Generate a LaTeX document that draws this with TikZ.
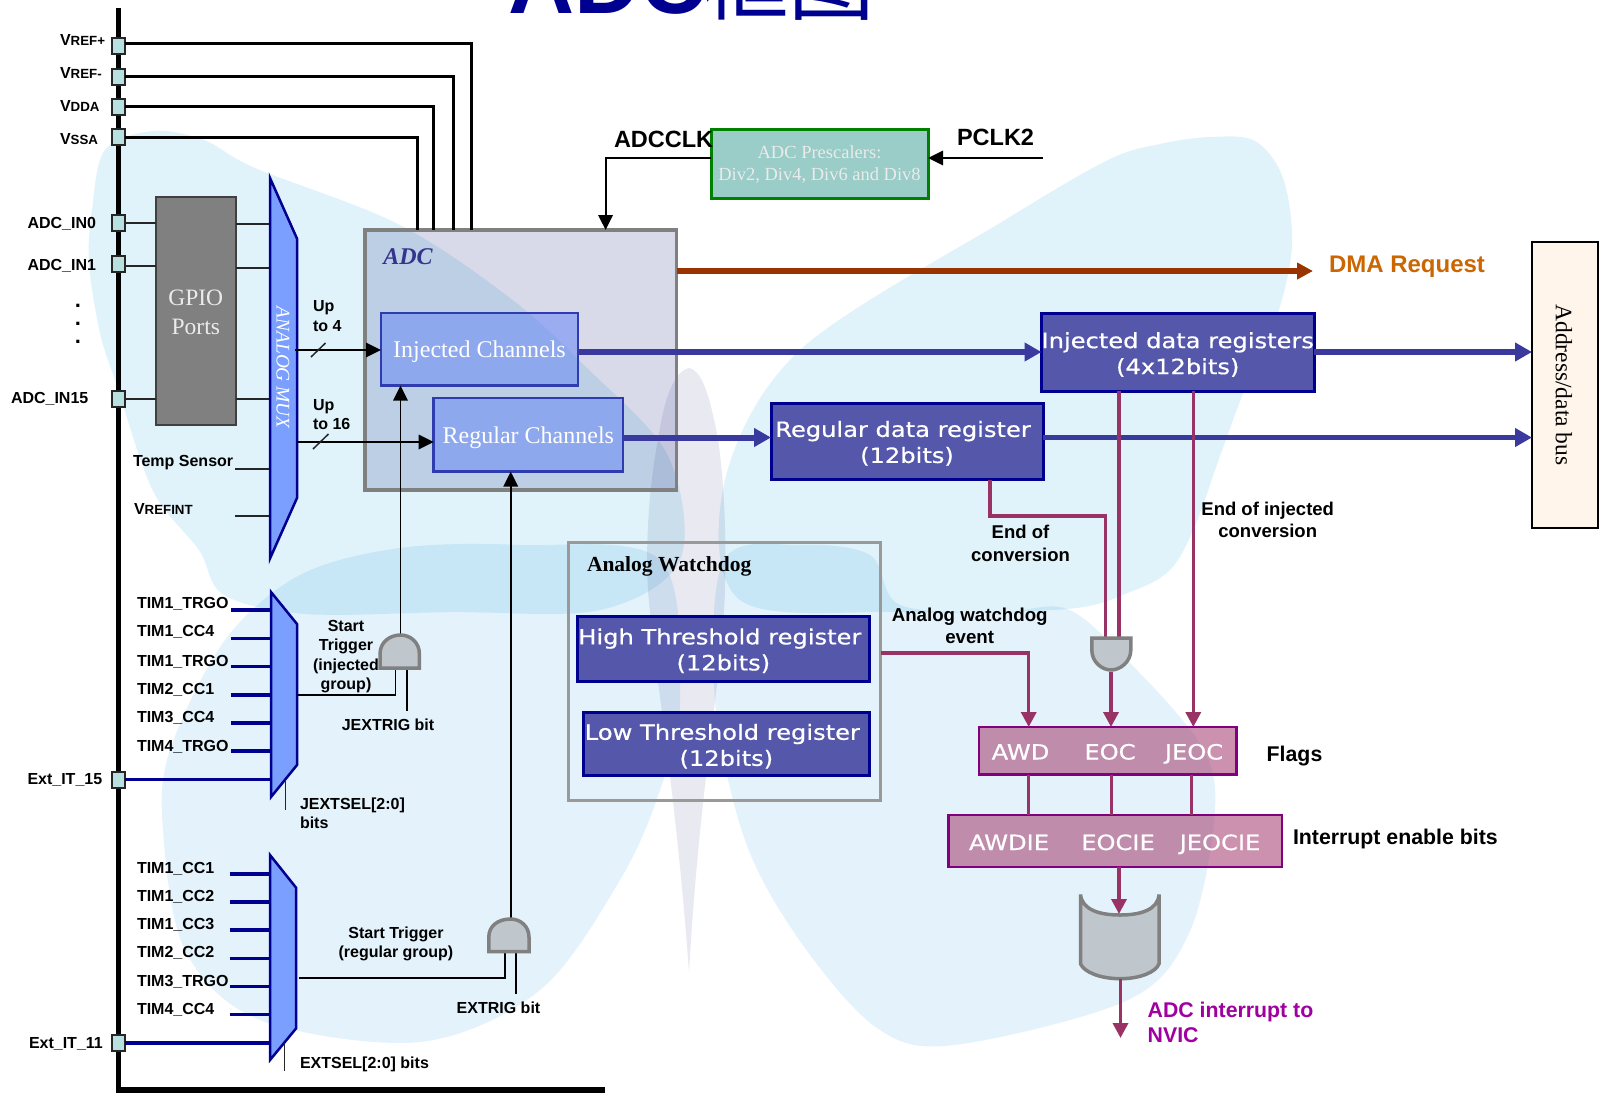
\documentclass[tikz,border=0pt]{standalone}
\usepackage{fontspec}
\setmainfont{Liberation Sans}
\newfontfamily\tms{Liberation Serif}
\newfontfamily\vera[FakeStretch=1.15,FakeBold=.6]{DejaVu Sans}
\newfontfamily\cjk{Noto Sans CJK SC}
\usetikzlibrary{arrows.meta,calc}
\definecolor{navy}{HTML}{000090}
\definecolor{wingA}{HTML}{E0F3FA}
\definecolor{wingB}{HTML}{E3F2FB}
\definecolor{bodyc}{HTML}{E8E9F1}
\definecolor{adcfill}{HTML}{D8DAEA}
\definecolor{chan}{HTML}{6082F6}
\definecolor{chanedge}{HTML}{2F3CB0}
\definecolor{regfill}{HTML}{5558AA}
\definecolor{busblue}{HTML}{3A3A9E}
\definecolor{plum}{HTML}{993366}
\definecolor{dma}{HTML}{993300}
\definecolor{dmatxt}{HTML}{CC6600}
\definecolor{mux}{HTML}{7B9FFF}
\definecolor{pinc}{HTML}{B8E0E0}
\definecolor{gatec}{HTML}{BFC6CC}
\definecolor{flag}{HTML}{AA4878}
\definecolor{flagedge}{HTML}{800080}
\definecolor{nvic}{HTML}{A000A0}
\definecolor{presc}{HTML}{9ACCC8}
\definecolor{addrc}{HTML}{FFF5EA}
\tikzset{
  lbl/.style={inner sep=0pt,outer sep=0pt,font=\bfseries\fontsize{16}{19.5}\selectfont,align=center},
  lblwm/.style={lbl,anchor=west,align=left},
  lblw/.style={lblwm,yshift=-1.2pt},
  lblm/.style={lbl,font=\bfseries\fontsize{18.5}{22.5}\selectfont},
  lblb/.style={lblw,font=\bfseries\fontsize{21.3}{25}\selectfont},
  lblk/.style={lblw,font=\bfseries\fontsize{23.5}{28}\selectfont},
  pinbox/.style={draw=black!85,line width=2pt,fill=pinc,minimum width=13pt,minimum height=16pt,inner sep=0pt,outer sep=0pt},
  chanbox/.style={draw=chanedge,line width=2.5pt,fill=chan,fill opacity=.5,draw opacity=1,text opacity=1,text=white,text depth=0pt,font=\tms\fontsize{24}{28}\selectfont},
  regbox/.style={draw=navy,line width=3pt,fill=regfill,text=white,align=center,font=\vera\fontsize{21}{26}\selectfont},
  flagbox/.style={draw=flagedge,line width=2.5pt,fill=flag,fill opacity=.6,draw opacity=1},
  flagtxt/.style={text=white,inner sep=0pt,anchor=base,font=\vera\fontsize{21}{26}\selectfont},
  muxshape/.style={draw=navy,line width=2.5pt,fill=mux,line join=miter},
  gate/.style={draw=black!50,line width=3.5pt,fill=gatec},
  thin/.style={draw=black!85,line width=2pt},
  wire/.style={draw=black,line width=1.8pt},
  navyin/.style={draw=navy,line width=3.5pt},
  supply/.style={draw=black,line width=3pt},
  tipk/.style={-{Triangle[length=15pt,width=14.5pt]}},
  thick blue/.style={draw=busblue,line width=6pt,-{Triangle[length=17pt,width=18pt]}},
  plumline/.style={draw=plum,line width=3.5pt},
  plumarrow/.style={plumline,-{Triangle[length=15pt,width=15pt]}},
}
\newcommand\boxnode[7]{%
  \pgfmathsetmacro\bw{#5-#3}\pgfmathsetmacro\bh{#6-#4}%
  \pgfmathsetmacro\bx{(#3+#5)/2}\pgfmathsetmacro\by{(#4+#6)/2}%
  \node[#2,minimum width=\bw pt,minimum height=\bh pt,inner sep=0pt,outer sep=0pt] (#1) at (\bx,\by) {#7};}
\newcommand\vs[1]{\rule{0pt}{#1pt}}
\begin{document}
\begin{tikzpicture}[x=1pt,y=-1pt]
\useasboundingbox (0,0) rectangle (1604,1093);
\begin{scope}
\clip (0,0) rectangle (1604,1093);
\fill[white] (0,0) rectangle (1604,1093);
% butterfly watermark
\begin{scope}[blend mode=multiply]
\fill[wingA] plot[smooth cycle,tension=.55] coordinates {(153,131) (204,140) (255,168) (398,224) (510,298) (587,368) (668,456) (680,560) (600,610) (450,612) (306,614) (224,595) (199,550) (153,491) (117,386) (100,333) (89,263) (92,210) (105,150)};
\fill[wingA] plot[smooth cycle,tension=.55] coordinates {(725,480) (800,350) (1005,220) (1108,160) (1160,144) (1210,137) (1255,141) (1283,178) (1292,245) (1277,316) (1246,386) (1220,456) (1195,526) (1170,570) (1130,592) (1067,609) (900,612) (740,600)};
\fill[wingB] plot[smooth cycle,tension=.55] coordinates {(660,560) (520,545) (400,548) (300,575) (225,640) (170,750) (163,830) (185,950) (260,1020) (420,1042) (540,990) (620,880) (660,790) (680,700)};
\fill[wingB] plot[smooth cycle,tension=.55] coordinates {(724,560) (800,545) (870,555) (900,605) (1000,612) (1067,609) (1128,661) (1200,744) (1215,810) (1190,931) (1128,1000) (954,1045) (877,1028) (800,941) (745,840) (715,700)};
\fill[bodyc] (689,368) .. controls (672,372) and (663,405) .. (658,440) .. controls (650,480) and (645,540) .. (648,590) .. controls (655,680) and (675,780) .. (689,972) .. controls (700,780) and (722,680) .. (725,590) .. controls (727,520) and (722,450) .. (714,420) .. controls (708,390) and (700,370) .. (689,368) -- cycle;
\end{scope}
% title
\node[anchor=base west,inner sep=0pt,text=navy,font=\fontsize{91.5}{95}\selectfont] (title) at (508,13) {\textbf{ADC}\hspace{-4pt}\cjk\fontsize{86.5}{95}\selectfont 框图};
\end{scope}

% ADC box (drawn first so that channels sit on it)
\begin{scope}[blend mode=multiply]
\boxnode{adc}{fill=adcfill}{365}{230}{676.5}{490}{}
\end{scope}
\draw[draw=black!50,line width=3.5pt] (adc.north west) rectangle (adc.south east);
\node[inner sep=0pt,text=busblue!90!black,font=\tms\bfseries\itshape\fontsize{24}{28}\selectfont] (adct) at (408,257) {ADC};

% bus
\coordinate (bustop) at (118.4,8);
\coordinate (buscorner) at (118.4,1090);
\coordinate (busend) at (605,1090);
\draw[black,line width=5.5pt] (bustop) -- (buscorner) -- (busend);

% pins
\node[pinbox] (vrefp) at (118.4,45.6) {};
\node[pinbox] (vrefm) at (118,76.5) {};
\node[pinbox] (vdda) at (118,106.7) {};
\node[pinbox] (vssa) at (118,137) {};
\node[pinbox] (in0) at (118.5,223) {};
\node[pinbox] (in1) at (118.5,263.5) {};
\node[pinbox] (in15) at (118,398.5) {};
\node[pinbox] (ext15) at (118.5,779.6) {};
\node[pinbox] (ext11) at (118,1043) {};

\newcommand\smc[2]{{\fontsize{16}{19}\selectfont #1}{\fontsize{13.3}{19}\selectfont #2}}
\node[lblw] (lvrefp) at (60,39) {\smc{V}{REF+}};
\node[lblw] (lvrefm) at (60,71.5) {\smc{V}{REF-}};
\node[lblw] (lvdda) at (60,104.5) {\smc{V}{DDA}};
\node[lblw] (lvssa) at (60,137.5) {\smc{V}{SSA}};
\node[lblw] (lin0) at (27.5,223) {ADC\_IN0};
\node[lblw] (lin1) at (27.5,264.5) {ADC\_IN1};
\node[lblw] (lin15) at (11,397.5) {ADC\_IN15};
\node[lbl,font=\bfseries\fontsize{22}{18}\selectfont] (dots) at (78,324) {.\\.\\.};
\node[lblw] (ltemp) at (133,461.6) {Temp Sensor};
\node[lblw] (lvrefint) at (134,508) {\smc{V}{REFINT}};
\node[lblw] (lext15) at (27.5,778.5) {Ext\_IT\_15};
\node[lblw] (lext11) at (29,1042.7) {Ext\_IT\_11};

% supply lines
\coordinate (sa) at (471,230);
\coordinate (sb) at (453.5,230);
\coordinate (sc) at (433.7,230);
\coordinate (sd) at (417.3,230);
\draw[supply] ([yshift=2pt]vrefp.east) -| (sa);
\draw[supply] (vrefm.east) -| (sb);
\draw[supply] (vdda.east) -| (sc);
\draw[supply] (vssa.east) -| (sd);

% GPIO
\boxnode{gpio}{draw=black!75,line width=2pt,fill=black!50,text=white!92!black,align=center,font=\tms\fontsize{23.5}{29}\selectfont}{155.6}{197}{236}{424.5}{\vs{18}GPIO\\Ports}

% analog mux
\coordinate (m1a) at (270,178);
\coordinate (m1b) at (297,238.6);
\coordinate (m1c) at (297,498);
\coordinate (m1d) at (270,558.5);
\coordinate (tmpin) at (270,469);
\coordinate (vrin) at (270,515.7);
\coordinate (tmpend) at (235,469);
\coordinate (vrend) at (235,515.7);
\coordinate (g1r) at (270,223.8);
\coordinate (g2r) at (270,267.7);
\coordinate (g3r) at (270,398.5);
\draw[thin] (in0.east) -- (gpio.west |- in0);
\draw[thin] (in1.east |- 0,266) -- (gpio.west |- 0,266);
\draw[thin] (in15.east) -- (gpio.west |- in15);
\draw[thin] (gpio.east |- g1r) -- (g1r);
\draw[thin] (gpio.east |- g2r) -- (g2r);
\draw[thin] (gpio.east |- g3r) -- (g3r);
\draw[thin] (tmpend) -- (tmpin);
\draw[thin] (vrend) -- (vrin);
\draw[muxshape] (m1a) -- (m1b) -- (m1c) -- (m1d) -- cycle;
\node[rotate=-90,text=white,inner sep=0pt,font=\tms\itshape\fontsize{19.3}{22}\selectfont] (muxt) at (283,367.7) {ANALOG MUX};

% channels
\boxnode{inj}{chanbox}{381}{313}{578}{385.6}{Injected Channels}
\boxnode{reg}{chanbox}{433.7}{398}{623}{471.6}{Regular Channels}
\coordinate (m1o4) at (295,350);
\coordinate (m1o16) at (297,442);
\draw[wire,tipk] (m1o4) -- (inj.west |- m1o4);
\draw[wire,tipk] (m1o16) -- (reg.west |- m1o16);
\coordinate (s4a) at (311,357);\coordinate (s4b) at (325.5,343);
\coordinate (s16a) at (313,449);\coordinate (s16b) at (328.5,434);
\draw[thin,line width=1.5pt] (s4a) -- (s4b);
\draw[thin,line width=1.5pt] (s16a) -- (s16b);
\node[lblwm] (up4) at (313,316) {Up\\to 4};
\node[lblwm] (up16) at (313,414.5) {Up\\to 16};

% clock
\boxnode{pres}{draw=green!50!black,line width=3pt,fill=presc,align=center,text=white!92!black,font=\tms\fontsize{18.5}{22}\selectfont}{711}{129}{928}{198}{\vs{15}ADC Prescalers:\\Div2, Div4, Div6 and Div8}
\coordinate (clkin) at (605.6,230);
\coordinate (pclksrc) at (1042.5,158);
\draw[wire,tipk] (pres.west |- pclksrc) -| (clkin);
\draw[wire,tipk] (pclksrc) -- (pres.east |- pclksrc);
\node[lblk] (adcclk) at (614,138) {ADCCLK};
\node[lblk] (pclk) at (957,136) {PCLK2};

% DMA
\coordinate (dmaend) at (1313,271);
\draw[draw=dma,line width=5.5pt,-{Triangle[length=16pt,width=16pt]}] (adc.east |- dmaend) -- (dmaend);
\node[lblw,text=dmatxt,font=\bfseries\fontsize{24}{28}\selectfont] (dmat) at (1329,266) {DMA Request};

% address bus
\boxnode{addr}{draw=black,line width=2pt,fill=addrc}{1532}{242}{1598}{527.7}{}
\node[rotate=-90,inner sep=0pt,font=\tms\fontsize{23.5}{26}\selectfont] (addrt) at (1564,385) {Address/data bus};

% data registers
\boxnode{injd}{regbox}{1041.5}{313}{1314}{391}{\vs{21}\makebox[0pt][c]{Injected data registers}\\(4x12bits)}
\boxnode{regd}{regbox}{771}{403}{1043}{479.6}{\vs{20}\makebox[0pt][c]{Regular data register\hspace{8pt}}\\(12bits)}
\draw[thick blue] (inj.east |- 0,352) -- (injd.west |- 0,352);
\draw[thick blue] (injd.east |- 0,352) -- (addr.west |- 0,352);
\draw[thick blue] (reg.east |- 0,437.5) -- (regd.west |- 0,437.5);
\draw[thick blue,line width=5pt] (regd.east |- 0,437.5) -- (addr.west |- 0,437.5);

% watchdog
\boxnode{wd}{draw=black!40,line width=3pt}{568}{542}{880.5}{800}{}
\node[lblw,font=\tms\bfseries\fontsize{21.5}{25}\selectfont] (wdt) at (587,565.6) {Analog Watchdog};
\boxnode{hi}{regbox}{577}{616.5}{869.7}{681}{\vs{20}\makebox[0pt][c]{High Threshold register\hspace{7pt}}\\(12bits)}
\boxnode{lo}{regbox}{583}{712}{869.7}{775.8}{\vs{20.5}\makebox[0pt][c]{Low Threshold register\hspace{8pt}}\\(12bits)}
\node[lbl,font=\bfseries\fontsize{18.7}{22.5}\selectfont] (wde) at (969.7,626) {Analog watchdog\\event};

% flags
\boxnode{flags}{flagbox}{979}{727}{1236.4}{774.7}{}
\boxnode{ie}{flagbox}{948.7}{815}{1282}{867}{}
\node[flagtxt] (fa) at (1020.5,759.5) {AWD};
\node[flagtxt] (fb) at (1110,759.5) {EOC};
\node[flagtxt] (fc) at (1194,759.5) {JEOC};
\node[flagtxt] (ia) at (1009,850) {AWDIE};
\node[flagtxt] (ib) at (1118,850) {EOCIE};
\node[flagtxt] (ic) at (1220,850) {JEOCIE};
\node[lblb] (lflags) at (1266.7,755) {Flags};
\node[lblb] (lie) at (1293,838) {Interrupt enable bits};

% EOC gate
\coordinate (g3tl) at (1091.8,638);\coordinate (g3tr) at (1130.8,638);
\coordinate (g3bot) at (1111,670);
\coordinate (g3in1) at (1105.6,638);\coordinate (g3in2) at (1119,638);
\coordinate (wdbend) at (1028.7,652.8);
\coordinate (eocbend) at (990,515.8);
\coordinate (eocbend2) at (1105.6,515.8);
\coordinate (jeocx) at (1193.3,600);
\coordinate (jeoclink) at (1191.8,800);
\draw[plumline] (regd.south -| eocbend) -- (eocbend) -- (eocbend2) -- (g3in1);
\draw[plumline] (injd.south -| g3in2) -- (g3in2);
\draw[plumarrow] (injd.south -| jeocx) -- (flags.north -| jeocx);
\draw[gate] (g3tl) -- (g3tr) -- (1130.8,650) .. controls (1130.8,662) and (1120,670) .. (g3bot) .. controls (1102,670) and (1091.8,662) .. (1091.8,650) -- cycle;
\draw[plumarrow] (1111,672) -- (flags.north -| g3bot);
\draw[plumarrow] (wd.east |- wdbend) -| (flags.north -| wdbend);
\draw[plumline,line width=3pt] (flags.south -| wdbend) -- (ie.north -| wdbend);
\draw[plumline,line width=3pt] (flags.south -| g3bot) -- (ie.north -| g3bot);
\draw[plumline,line width=3pt] (flags.south -| jeoclink) -- (ie.north -| jeoclink);
\node[lblm] (leoc) at (1020.5,543.5) {End of\\conversion};
\node[lblm] (ljeoc) at (1267.7,520) {End of injected\\conversion};

% OR gate
\coordinate (g4in) at (1119,914);
\coordinate (g4out) at (1120.5,978.7);
\coordinate (irq) at (1120.5,1038);
\draw[gate] (1080.5,894.5) .. controls (1082,910) and (1100,915) .. (1120,915) .. controls (1140,915) and (1158,910) .. (1159,894.5) -- (1159,963.8) .. controls (1156,972) and (1140,978.7) .. (g4out) .. controls (1100,978.7) and (1084,972) .. (1080.5,963.8) -- cycle;
\draw[plumarrow] (ie.south -| g4in) -- (g4in);
\draw[plumarrow] (g4out) -- (irq);
\node[lblb,text=nvic,yshift=1.2pt] (lirq) at (1147.7,1022.5) {ADC interrupt to\\NVIC};

% injected trigger mux
\coordinate (m2a) at (271,592);\coordinate (m2b) at (297,624);\coordinate (m2c) at (297,765);\coordinate (m2d) at (271,797);
\foreach \nm/\yy/\ty/\txt in {a/610/603/TIM1\_TRGO,b/638.6/631/TIM1\_CC4,c/666.7/660.5/TIM1\_TRGO,d/695/688.5/TIM2\_CC1,e/723/716.5/TIM3\_CC4,f/751/745.6/TIM4\_TRGO}{
  \coordinate (jb\nm) at (231,\yy);
  \coordinate (je\nm) at (271,\yy);
  \draw[navyin] (jb\nm) -- (je\nm);
  \node[lblw] (jl\nm) at (137,\ty) {\txt};
}
\coordinate (m2e) at (271,779.6);
\draw[navyin] (ext15.east) -- (m2e);
\draw[muxshape] (m2a) -- (m2b) -- (m2c) -- (m2d) -- cycle;
\coordinate (js1) at (285.7,780);\coordinate (js2) at (285.7,810);
\draw[thin,line width=1.5pt] (js1) -- (js2);
\node[lblwm] (ljs) at (300,813.5) {JEXTSEL[2:0]\\bits};

% regular trigger mux
\coordinate (m3a) at (270,855);\coordinate (m3b) at (296,887.6);\coordinate (m3c) at (296,1028.5);\coordinate (m3d) at (270,1060);
\foreach \nm/\yy/\ty/\txt in {a/873.8/867.5/TIM1\_CC1,b/901.8/895.6/TIM1\_CC2,c/930/923.6/TIM1\_CC3,d/958.6/951.7/TIM2\_CC2,e/986.6/980.4/TIM3\_TRGO,f/1014.7/1008.8/TIM4\_CC4}{
  \coordinate (rb\nm) at (229.6,\yy);
  \coordinate (re\nm) at (270,\yy);
  \draw[navyin] (rb\nm) -- (re\nm);
  \node[lblw] (rl\nm) at (137,\ty) {\txt};
}
\coordinate (m3e) at (270,1043);
\draw[navyin] (ext11.east) -- (m3e);
\draw[muxshape] (m3a) -- (m3b) -- (m3c) -- (m3d) -- cycle;
\coordinate (rs1) at (284.7,1043);\coordinate (rs2) at (284.7,1071);
\draw[thin,line width=1.5pt] (rs1) -- (rs2);
\node[lblw] (lrs) at (300,1063.5) {EXTSEL[2:0] bits};

% gate 1
\coordinate (g1top) at (400.5,635);
\coordinate (g1a) at (395.4,668);\coordinate (g1b) at (407,668);
\coordinate (g1mux) at (297,695);\coordinate (g1bit) at (407,711);
\draw[wire,tipk] (g1top) -- (inj.south -| g1top);
\draw[wire] (g1mux) -| (g1a);
\draw[wire] (g1b) -- (g1bit);
\draw[gate] (380,668) -- (380,654) .. controls (380,642) and (390,635) .. (g1top) .. controls (410,635) and (419.4,642) .. (419.4,654) -- (419.4,668) -- cycle;
\node[lbl] (lst) at (346,656.5) {Start\\Trigger\\(injected\\group)};
\node[lbl] (ljx) at (388,724.5) {JEXTRIG bit};

% gate 2
\coordinate (g2top) at (510.7,919);
\coordinate (g2a) at (505,951.7);\coordinate (g2b) at (516.3,951.7);
\coordinate (g2mux) at (298.5,978.3);\coordinate (g2bit) at (516.3,994);
\draw[wire,tipk] (g2top) -- (reg.south -| g2top);
\draw[wire] (g2mux) -| (g2a);
\draw[wire] (g2b) -- (g2bit);
\draw[gate] (488.8,951.7) -- (488.8,937) .. controls (488.8,926) and (498,919) .. (g2top) .. controls (520,919) and (529,926) .. (529,937) -- (529,951.7) -- cycle;
\node[lbl] (lsr) at (396,944) {Start Trigger\\(regular group)};
\node[lbl] (lex) at (498.5,1007.8) {EXTRIG bit};
\end{tikzpicture}
\end{document}
